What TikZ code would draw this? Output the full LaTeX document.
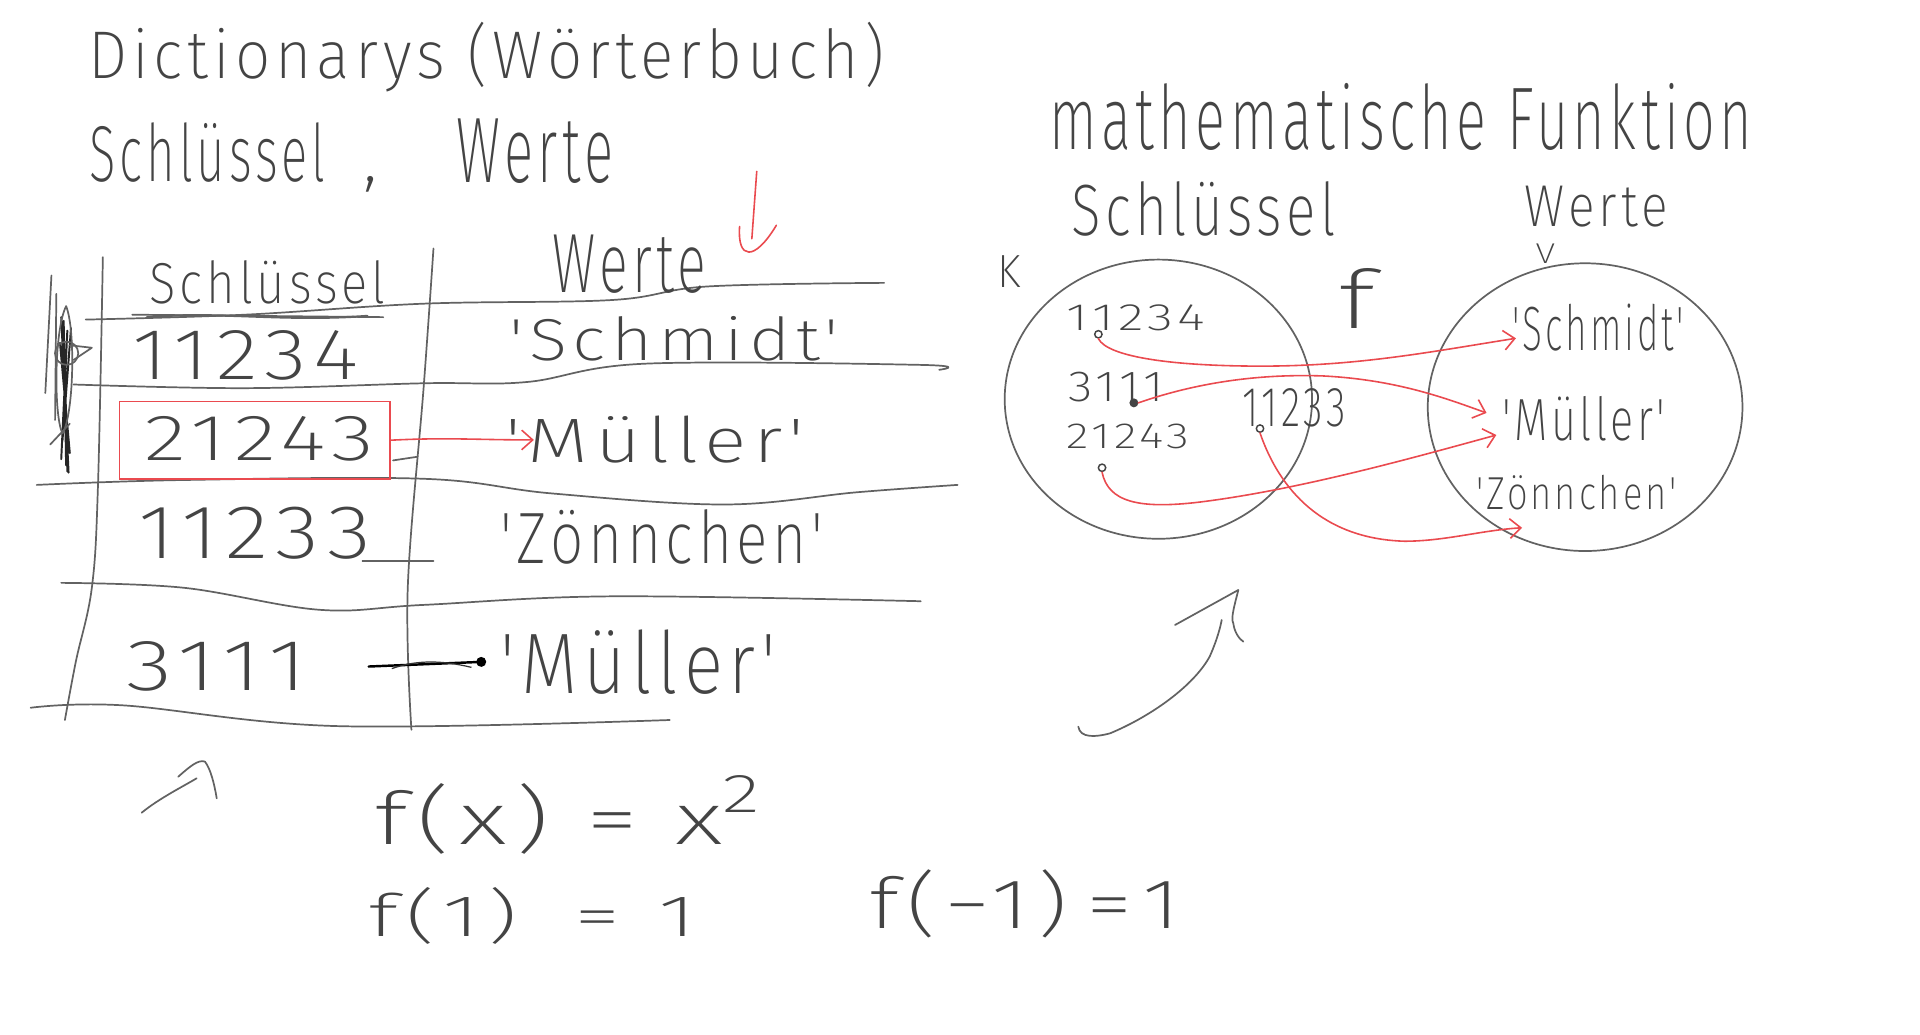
\documentclass[tikz,border=0pt]{standalone}
\usepackage{fontspec}
\usepackage{graphicx}
\newfontfamily\hand{Fira Sans ExtraLight}[LetterSpace=8]
\usetikzlibrary{arrows.meta,shapes.geometric}
\definecolor{ink}{HTML}{444444}
\definecolor{pen}{HTML}{626262}
\definecolor{redpen}{HTML}{EA4A4F}
\newcommand{\hw}[3]{\resizebox{#1pt}{#2pt}{\hand #3}}
\begin{document}
\begin{tikzpicture}[x=1pt,y=-1pt,
  txt/.style={inner sep=0pt, outer sep=0pt, anchor=base west, text=ink},
  pencil/.style={draw=pen, line width=1.4pt, line cap=round, line join=round},
  redline/.style={draw=redpen, line width=1.3pt, line cap=round, line join=round},
  redarrow/.style={redline, -{Straight Barb[length=9pt,width=16pt,line width=1.3pt]}},
  redbox/.style={draw=redpen, line width=1.3pt, inner sep=0pt},
  dotmark/.style={circle, draw=ink, line width=1.2pt, inner sep=0pt, minimum size=6pt},
  setshape/.style={ellipse, draw=pen, line width=1.4pt, inner sep=0pt},
]
\fill[white] (0,0) rectangle (1568,845);
\useasboundingbox (0,0) rectangle (1568,845);

% ---------- headings ----------
\node[txt] (title) at (72,64) {\hw{650}{46}{Dictionarys (Wörterbuch)}};
\node[txt] (sk) at (73,148) {\hw{193}{48}{Schlüssel}};
\node[txt, font=\hand\fontsize{60}{60}\selectfont] (comma) at (297,148) {,};
\node[txt] (sw) at (373,149) {\hw{128}{52}{Werte}};

% red down arrow
\coordinate (ra1) at (618,140);
\coordinate (ra2) at (614,195);
\draw[redline] (ra1) -- (ra2);
\draw[redline] (604,185) .. controls (602,212) and (616,214) .. (634,184);

% ---------- table ----------
\draw[pencil] plot[smooth, tension=0.6] coordinates {(84,210) (80,397) (75,480) (62,540) (53,588)};
\draw[pencil] plot[smooth, tension=0.6] coordinates {(354,203) (346,316) (333,480) (336,596)};
\draw[pencil] plot[smooth, tension=0.6] coordinates {(70,261) (200,257) (346,248) (500,245) (577,234) (722,231)};
\draw[pencil] plot[smooth, tension=0.6] coordinates {(60,314) (200,317) (346,313) (430,312) (527,297) (752,298) (767,302)};
\draw[pencil] plot[smooth, tension=0.6] coordinates {(30,396) (150,392) (346,391) (451,403) (592,412) (700,402) (782,396)};
\draw[pencil] plot[smooth, tension=0.6] coordinates {(50,476) (150,480) (261,498) (346,494) (500,487) (752,491)};
\draw[pencil] plot[smooth, tension=0.6] coordinates {(25,578) (100,576) (276,593) (547,588)};
% header underline
\draw[pencil] (108,257) -- (313,259);
\draw[pencil, line width=1.8pt] (120,259) .. controls (180,254) and (230,263) .. (300,258);

% scribble at the left
\draw[pencil] (42,225) -- (37,321);
\draw[pencil] (46,240) -- (45,343);
\draw[draw=black!85, line width=1.6pt, line cap=round] (50,259) -- (56,386) (52,262) -- (54,380) (55,270) -- (50,375) (58,268) -- (51,360) (53,300) -- (55,385) (49,280) -- (57,370);
\draw[pencil] (54,250) .. controls (62,270) and (60,340) .. (51,354) .. controls (44,340) and (44,270) .. (54,250);
\draw[pencil] (54.4,288.5) circle (9.5);
\draw[pencil] (57,282) -- (75,284) -- (60,294);
\draw[pencil] (41,363) -- (57,346);

\node[txt] (hk) at (122,248) {\hw{193}{35}{Schlüssel}};
\node[txt] (hv) at (451,239) {\hw{126}{47}{Werte}};
\node[txt] (k1) at (108,310) {\hw{185}{40}{11234}};
\node[txt] (v1) at (416,294) {\hw{269}{36}{'Schmidt'}};
\node[txt] (k2) at (118,376) {\hw{188}{36}{21243}};
\node[txt] (v2) at (413,378) {\hw{244}{38}{'Müller'}};
\node[txt] (k3) at (113,456) {\hw{190}{42}{11233}};
\node[txt] (v3) at (409,460) {\hw{263}{44}{'Zönnchen'}};
\node[txt] (k4) at (103,564) {\hw{148}{40}{3111}};
\node[txt] (v4) at (409,566) {\hw{225}{52}{'Müller'}};

\node[redbox, minimum width=221pt, minimum height=63pt] (k2box) at (208,359.5) {};
\draw[redarrow] (k2box.east) to[out=3,in=180] ([xshift=23pt]v2.west);
\draw[pencil] (321,376) -- (341,373);
\draw[pencil] (296,458) -- (354,458);
\draw[draw=black, line width=2pt, line cap=round, -{Circle[length=8pt]}] ([xshift=50pt]k4.east) -- ([xshift=-12pt]v4.west);
\draw[draw=black!80, line width=1pt] (320,546) .. controls (340,539) and (360,539) .. (385,545);

% ---------- function diagram ----------
\node[txt] (mf) at (857,122) {\hw{574}{54}{mathematische Funktion}};
\node[txt] (rk) at (875,192) {\hw{216}{44}{Schlüssel}};
\node[txt] (rw) at (1245,185) {\hw{117}{33}{Werte}};
\node[txt] (Vl) at (1254,215) {\hw{16}{16}{V}};
\node[txt] (Kl) at (815,235) {\hw{19}{26}{K}};
\node[txt] (fl) at (1093,268) {\hw{30}{49}{f}};

\node[setshape, minimum width=251pt, minimum height=228pt] (Kset) at (946,326) {};
\node[setshape, minimum width=257pt, minimum height=235pt] (Vset) at (1294.5,332.5) {};

\node[txt] (a1) at (871,270) {\hw{113}{21}{11234}};
\node[dotmark] (d1) at (897,273) {};
\node[txt] (a2) at (873,328) {\hw{78}{24}{3111}};
\node[dotmark, fill=ink] (d2) at (926,329) {};
\node[txt] (a3) at (871,366) {\hw{100}{20}{21243}};
\node[dotmark] (d3) at (900,382) {};
\node[txt] (a4) at (1015,348) {\hw{84}{31}{11233}};
\node[dotmark] (d4) at (1029,350) {};

\node[txt] (b1) at (1235,286) {\hw{140}{38}{'Schmidt'}};
\node[txt] (b2) at (1227,360) {\hw{133}{36}{'Müller'}};
\node[txt] (b3) at (1206,416) {\hw{163}{28}{'Zönnchen'}};

\draw[redarrow] (d1.south) .. controls (905,292) and (960,299) .. (1030,299)
   .. controls (1110,299) and (1170,287) .. ([shift={(3,9)}]b1.west);
\draw[redarrow] (d2.east) .. controls (970,315) and (1020,305) .. (1080,307)
   .. controls (1140,310) and (1180,325) .. ([shift={(-13,-5)}]b2.west);
\draw[redarrow] (d3.south) .. controls (905,410) and (930,416) .. (980,410)
   .. controls (1060,400) and (1150,375) .. ([shift={(-5,13)}]b2.west);
\draw[redarrow] (d4.south) .. controls (1045,400) and (1080,440) .. (1147,442)
   .. controls (1180,442) and (1210,433) .. ([shift={(37,15)}]b3.base west);

% hand arrows
\draw[pencil] (115.7,663.7) .. controls (130,652) and (150,642) .. (160.6,635.6);
\draw[pencil] (145.6,634.3) .. controls (155,626) and (162,620) .. (167.4,622) .. controls (172,628) and (175,640) .. (177,652);
\draw[pencil] (880.6,593.4) .. controls (882,603) and (895,602) .. (906.5,598.9) .. controls (940,585) and (975,560) .. (988,536) .. controls (995,520) and (997,510) .. (997.7,506.3);
\draw[pencil] (959.6,510.4) -- (1011.3,481.8) .. controls (1008,495) and (1005,505) .. (1007.2,509) .. controls (1008,516) and (1012,522) .. (1015.4,524);

% ---------- formulas ----------
\node[txt] (fx) at (306,690) {\hw{315}{57}{f(x)\hspace{0.35em}=\hspace{0.35em}x\raisebox{0.45em}{\scalebox{0.75}{2}}}};
\node[txt] (f1) at (301,765) {\hw{268}{40}{f(1)\hspace{0.6em}=\hspace{0.4em}1}};
\node[txt] (fm1) at (710,758) {\hw{254}{48}{f(−1)\hspace{0.2em}=\hspace{0.1em}1}};
\end{tikzpicture}
\end{document}
